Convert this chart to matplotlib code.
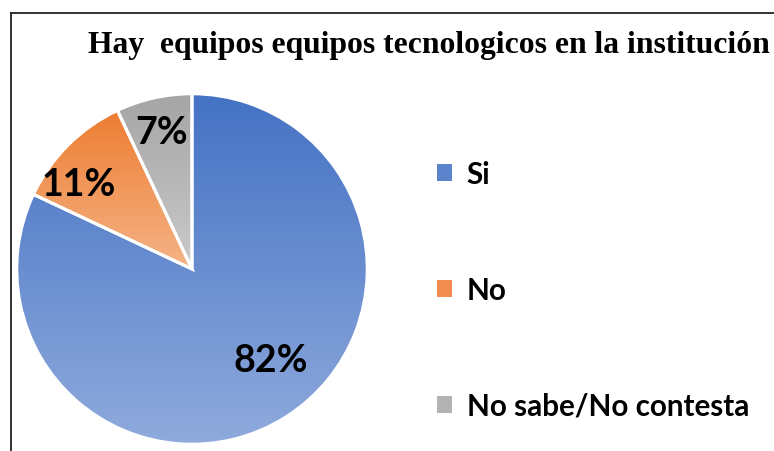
import numpy as np
import matplotlib
matplotlib.use("Agg")
import matplotlib.pyplot as plt
from matplotlib.patches import Patch
from matplotlib.lines import Line2D
from matplotlib.colors import LinearSegmentedColormap

categories = ["Si", "No", "No sabe/No contesta"]
values = [82, 11, 7]
labels_pct = ["82%", "11%", "7%"]
title = "Hay  equipos equipos tecnologicos en la institución"
top_colors = ["#4472C4", "#ED7D31", "#A5A5A5"]
bottom_colors = ["#8FAADC", "#F5B387", "#CACACA"]
legend_colors = ["#5B84CC", "#F08C4F", "#B3B3B3"]

W, H = 774, 452
fig = plt.figure(figsize=(W / 100, H / 100), dpi=100)
fig.patch.set_facecolor("white")

# frame border (left and top visible)
fig.add_artist(Line2D([11 / W, 11 / W], [0, 1 - 14 / H], color="#222222", lw=1.3,
                      transform=fig.transFigure))
fig.add_artist(Line2D([11 / W, 1], [1 - 14 / H, 1 - 14 / H], color="#222222", lw=1.3,
                      transform=fig.transFigure))

cx, cy, R = 192, 270, 177
ax = fig.add_axes([(cx - R) / W, (H - cy - R) / H, 2 * R / W, 2 * R / H])
ax.axis("off")

wedges, _ = ax.pie(values, startangle=90, counterclock=False, radius=1,
                   colors=top_colors,
                   wedgeprops=dict(edgecolor="white", linewidth=2.2))

grad = np.linspace(0, 1, 256).reshape(-1, 1)
for w, c0, c1 in zip(wedges, top_colors, bottom_colors):
    ext = w.get_path().get_extents()
    cmap = LinearSegmentedColormap.from_list("g", [c0, c1])
    im = ax.imshow(grad, cmap=cmap, aspect="auto",
                   extent=(ext.x0, ext.x1, ext.y0, ext.y1), origin="upper",
                   zorder=w.get_zorder() + 0.1, interpolation="bilinear")
    im.set_clip_path(w)
    w.set_zorder(w.get_zorder() + 0.2)
    w.set_facecolor("none")

ax.set_xlim(-1.01, 1.01)
ax.set_ylim(-1.01, 1.01)
ax.set_aspect("equal")

# percentage labels: radial distance and angular shift per slice
label_r = [0.69, 0.81, 0.80]
label_shift = [8.5, 8, 0]
start = 90.0
for v, lab, r, s in zip(values, labels_pct, label_r, label_shift):
    span = 360.0 * v / sum(values)
    mid = np.deg2rad(start - span / 2 + s)
    start -= span
    ax.text(r * np.cos(mid), r * np.sin(mid), lab, ha="center", va="center",
            fontsize=27, fontweight="bold", family="Lato", color="black", zorder=10)

fig.text(429 / W, 1 - 45 / H, title, ha="center", va="center",
         fontsize=22.8, fontweight="bold", family="Liberation Serif")

handles = [Patch(facecolor=c, edgecolor="none") for c in legend_colors]
fig.legend(handles, categories, loc="center left",
           bbox_to_anchor=(437 / W, 1 - 291 / H), frameon=False,
           prop=dict(family="Lato", weight="bold", size=21.3),
           handlelength=0.5, handleheight=0.5, handletextpad=0.5,
           labelspacing=2.97, borderpad=0, borderaxespad=0)

fig.savefig("out.png", dpi=100, facecolor="white")
